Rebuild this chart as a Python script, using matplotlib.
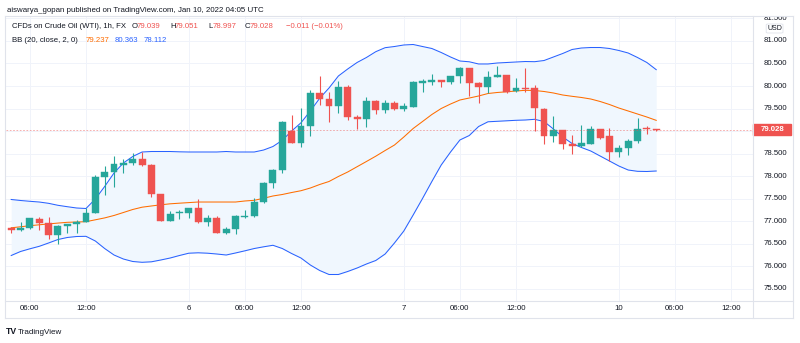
import matplotlib
matplotlib.use("Agg")
import matplotlib.pyplot as plt
from matplotlib.patches import Rectangle, FancyBboxPatch
from matplotlib.lines import Line2D
import numpy as np

# ---------------- data (hourly candles, CFDs on Crude Oil WTI) ----------------
opens = [76.839, 76.81, 76.839, 77.053, 76.957, 76.697, 76.89, 76.935, 76.979, 77.172,
         77.979, 78.097, 78.252, 78.296, 78.378, 78.245, 77.594, 77.008, 77.172, 77.172,
         77.283, 76.972, 77.075, 76.741, 76.824, 77.09, 77.106, 77.423, 77.839, 78.134,
         78.994, 78.741, 79.112, 79.838, 79.718, 79.562, 79.971, 79.318, 79.26, 79.66,
         79.46, 79.633, 79.482, 79.54, 80.073, 80.089, 80.133, 80.096, 80.215, 80.393,
         80.06, 79.971, 80.207, 80.238, 79.882, 79.94, 79.949, 79.489, 78.896, 79.016,
         78.712, 78.674, 78.712, 79.045, 78.896, 78.541, 78.616, 78.778, 79.06, 79.039]
highs = [76.86, 76.986, 77.075, 77.084, 77.09, 76.906, 76.94, 77.023, 77.283, 78.023,
         78.23, 78.452, 78.372, 78.505, 78.541, 78.267, 77.612, 77.23, 77.253, 77.297,
         77.501, 77.141, 77.106, 76.861, 77.141, 77.253, 77.512, 77.874, 78.163, 79.229,
         79.349, 79.505, 79.911, 80.229, 79.86, 80.118, 80.029, 79.362, 79.749, 79.689,
         79.682, 79.667, 79.616, 80.111, 80.149, 80.26, 80.144, 80.229, 80.415, 80.41,
         80.082, 80.327, 80.444, 80.244, 80.171, 80.406, 80.022, 79.518, 79.334, 79.03,
         78.905, 79.14, 79.118, 79.052, 79.074, 78.683, 78.823, 79.296, 79.118, 79.051]
lows = [76.735, 76.78, 76.817, 76.80, 76.595, 76.497, 76.728, 76.741, 76.97, 77.17,
        77.579, 77.763, 78.061, 78.245, 78.234, 77.528, 76.995, 77.0, 77.046, 77.075,
        76.968, 76.897, 76.735, 76.713, 76.706, 77.075, 77.084, 77.408, 77.728, 78.061,
        78.734, 78.652, 78.896, 79.578, 79.194, 79.407, 79.245, 79.045, 79.096, 79.378,
        79.407, 79.467, 79.451, 79.534, 79.867, 80.016, 79.984, 80.044, 80.073, 79.785,
        79.616, 79.851, 80.193, 79.851, 79.867, 79.867, 79.0, 78.705, 78.763, 78.607,
        78.496, 78.652, 78.705, 78.823, 78.334, 78.416, 78.461, 78.727, 78.927, 78.997]
closes = [76.808, 76.853, 77.061, 76.957, 76.697, 76.89, 76.935, 76.979, 77.179, 77.979,
          78.097, 78.261, 78.296, 78.378, 78.245, 77.594, 77.008, 77.157, 77.186, 77.283,
          76.972, 77.075, 76.741, 76.824, 77.106, 77.112, 77.423, 77.839, 78.134, 79.2,
          78.741, 79.112, 79.838, 79.718, 79.562, 79.971, 79.318, 79.26, 79.66, 79.46,
          79.629, 79.482, 79.556, 80.089, 80.104, 80.133, 80.096, 80.215, 80.393, 80.06,
          79.971, 80.2, 80.238, 79.867, 79.956, 79.927, 79.505, 78.896, 79.016, 78.712,
          78.674, 78.727, 79.045, 78.838, 78.541, 78.623, 78.778, 79.045, 79.039, 79.028]

bb_mid = [76.850, 76.873, 76.897, 76.917, 76.937, 76.955, 76.972, 76.979, 76.986, 77.028,
          77.070, 77.124, 77.190, 77.257, 77.308, 77.335, 77.361, 77.383, 77.397, 77.410,
          77.423, 77.423, 77.423, 77.423, 77.423, 77.446, 77.461, 77.506, 77.557, 77.590,
          77.634, 77.674, 77.734, 77.812, 77.879, 77.990, 78.090, 78.207, 78.323, 78.441,
          78.567, 78.689, 78.867, 79.056, 79.211, 79.367, 79.500, 79.600, 79.689, 79.733,
          79.778, 79.833, 79.856, 79.871, 79.889, 79.904, 79.900, 79.878, 79.845, 79.800,
          79.771, 79.745, 79.711, 79.656, 79.589, 79.511, 79.445, 79.378, 79.311, 79.237]
bb_upper = [77.479, 77.457, 77.439, 77.423, 77.394, 77.350, 77.319, 77.290, 77.279, 77.490,
            77.768, 78.068, 78.290, 78.434, 78.534, 78.545, 78.545, 78.545, 78.538, 78.534,
            78.534, 78.534, 78.534, 78.545, 78.534, 78.534, 78.534, 78.578, 78.656, 78.794,
            79.000, 79.183, 79.445, 79.727, 79.956, 80.222, 80.378, 80.522, 80.633, 80.762,
            80.851, 80.877, 80.911, 80.922, 80.877, 80.833, 80.744, 80.644, 80.555, 80.538,
            80.489, 80.489, 80.511, 80.522, 80.533, 80.544, 80.540, 80.566, 80.644, 80.722,
            80.811, 80.844, 80.855, 80.855, 80.833, 80.789, 80.733, 80.633, 80.522, 80.363]
bb_lower = [76.235, 76.324, 76.384, 76.439, 76.513, 76.590, 76.635, 76.657, 76.661, 76.557,
            76.390, 76.246, 76.157, 76.102, 76.084, 76.095, 76.135, 76.179, 76.235, 76.286,
            76.295, 76.286, 76.268, 76.246, 76.291, 76.339, 76.390, 76.428, 76.462, 76.390,
            76.279, 76.179, 76.024, 75.902, 75.813, 75.813, 75.880, 75.957, 76.046, 76.124,
            76.268, 76.513, 76.779, 77.135, 77.501, 77.879, 78.245, 78.534, 78.801, 78.900,
            79.100, 79.205, 79.216, 79.227, 79.238, 79.245, 79.260, 79.211, 79.045, 78.867,
            78.723, 78.634, 78.556, 78.445, 78.334, 78.223, 78.134, 78.105, 78.101, 78.112]

last_price = 79.028
price_levels = [75.5, 76.0, 76.5, 77.0, 77.5, 78.0, 78.5, 79.0, 79.5, 80.0, 80.5, 81.0, 81.5]
time_tick_pos = [2, 8, 19, 25, 31, 42, 48, 54, 65, 71, 77]
time_tick_labels = ["06:00", "12:00", "6", "06:00", "12:00", "7", "06:00", "12:00", "10", "06:00", "12:00"]

# ---------------- style ----------------
GREEN = "#26a69a"
RED = "#ef5350"
BLUE = "#2962ff"
ORANGE = "#ff6d00"
TXT = "#131722"
GRID = "#f0f3fa"
BORDER = "#e0e3eb"
FONT = "Liberation Sans"
plt.rcParams["font.family"] = [FONT, "DejaVu Sans"]

W, H = 800, 343
fig = plt.figure(figsize=(8, 3.43), dpi=100)
fig.patch.set_facecolor("white")

def fx(px):
    return px / W

def fy(py):
    return 1 - py / H

PL, PR, PT, PB = 6, 753, 16, 301
ax = fig.add_axes([fx(PL), fy(PB), fx(PR) - fx(PL), fy(PT) - fy(PB)])
ax.set_xlim((PL - 11.2) / 9.348, (PR - 11.2) / 9.348)
ax.set_ylim(80 - (PB - 86) / 45.02, 80 - (PT - 86) / 45.02)
for s in ax.spines.values():
    s.set_visible(False)
ax.set_xticks([])
ax.set_yticks([])

# grid
for p in price_levels:
    ax.axhline(p, color=GRID, lw=0.7, zorder=0)
for t in time_tick_pos:
    ax.axvline(t, color=GRID, lw=0.7, zorder=0)

x = np.arange(len(closes))
ax.fill_between(x, bb_lower, bb_upper, color="#f0f7fe", lw=0, zorder=1)
ax.plot(x, bb_upper, color=BLUE, lw=0.75, zorder=2)
ax.plot(x, bb_lower, color=BLUE, lw=0.75, zorder=2)
ax.plot(x, bb_mid, color=ORANGE, lw=0.75, zorder=2)

o = np.array(opens); c = np.array(closes)
cols = [GREEN if cc >= oo else RED for oo, cc in zip(opens, closes)]
ax.vlines(x, lows, highs, colors=cols, lw=0.8, zorder=3)
bottoms = np.minimum(o, c)
heights = np.maximum(np.abs(c - o), 0.022)
ax.bar(x, heights, bottom=bottoms, width=0.74, color=cols, edgecolor=cols, lw=0.3, zorder=4)

ax.axhline(last_price, color=RED, lw=0.6, ls=(0, (2, 2)), alpha=0.55, zorder=5)

# time axis labels
for t, lab in zip(time_tick_pos, time_tick_labels):
    ax.text(t, -0.026, lab, transform=ax.get_xaxis_transform(), ha="center", va="center",
            fontsize=5.7, color=TXT, clip_on=False)

# price axis
ax2 = fig.add_axes([fx(PR), fy(PB), fx(793) - fx(PR), fy(PT) - fy(PB)])
ax2.set_xlim(0, 1)
ax2.set_ylim(ax.get_ylim())
ax2.axis("off")
half = 5.5 / 45.02
for p in price_levels:
    if abs(p - last_price) < 2.2 * half:
        continue  # hidden behind the last-price badge, as in the reference
    ax2.text(0.56, p, f"{p:.3f}", ha="center", va="center", fontsize=5.6, color=TXT, clip_on=True)
ax2.add_patch(Rectangle((0.0, last_price - half), 0.95, 2 * half, color=RED, zorder=5, clip_on=False))
ax2.text(0.5, last_price, f"{last_price:.3f}", ha="center", va="center", fontsize=5.6,
         color="white", fontweight="bold", zorder=6)
# USD badge
ax2.add_patch(FancyBboxPatch((0.33, 80 - (33 - 86) / 45.02), 0.42, 9 / 45.02,
                             boxstyle="round,pad=0,rounding_size=0.05", fc="white", ec=BORDER,
                             lw=0.6, zorder=5, clip_on=False, mutation_aspect=0.3))
ax2.text(0.54, 80 - (28 - 86) / 45.02, "USD", ha="center", va="center", fontsize=5.0,
         color=TXT, zorder=6)

# frame lines
def fline(x0, y0, x1, y1):
    fig.add_artist(Line2D([fx(x0), fx(x1)], [fy(y0), fy(y1)], color=BORDER, lw=0.8))

fline(5, 16, 793, 16)
fline(5, 318, 793, 318)
fline(5, 16, 5, 318)
fline(793, 16, 793, 318)
fline(PR, 16, PR, 318)
fline(5, PB, 793, PB)

# header & legend
fig.text(fx(7), fy(10), "aiswarya_gopan published on TradingView.com, Jan 10, 2022 04:05 UTC",
         fontsize=5.7, color=TXT, va="center", ha="left")
y1 = fy(27)
fig.text(fx(12), y1, "CFDs on Crude Oil (WTI), 1h, FX", fontsize=5.6, color=TXT, va="center")
for xp, lab, val in [(132, "O", "79.039"), (170, "H", "79.051"), (208, "L", "78.997"), (245, "C", "79.028")]:
    fig.text(fx(xp), y1, lab, fontsize=5.6, color=TXT, va="center")
    fig.text(fx(xp + 4.5), y1, val, fontsize=5.6, color=RED, va="center")
fig.text(fx(286), y1, "\u22120.011 (\u22120.01%)", fontsize=5.6, color=RED, va="center")
y2 = fy(40.5)
fig.text(fx(12), y2, "BB (20, close, 2, 0)", fontsize=5.6, color=TXT, va="center")
fig.text(fx(86), y2, "79.237", fontsize=5.6, color=ORANGE, va="center")
fig.text(fx(115), y2, "80.363", fontsize=5.6, color=BLUE, va="center")
fig.text(fx(144), y2, "78.112", fontsize=5.6, color=BLUE, va="center")

# logo
fig.text(fx(6), fy(332), "TV", fontsize=6.2, fontweight="bold", color=TXT, va="center")
fig.text(fx(18), fy(332), "TradingView", fontsize=5.8, color=TXT, va="center")

fig.savefig("out.png", dpi=100)
